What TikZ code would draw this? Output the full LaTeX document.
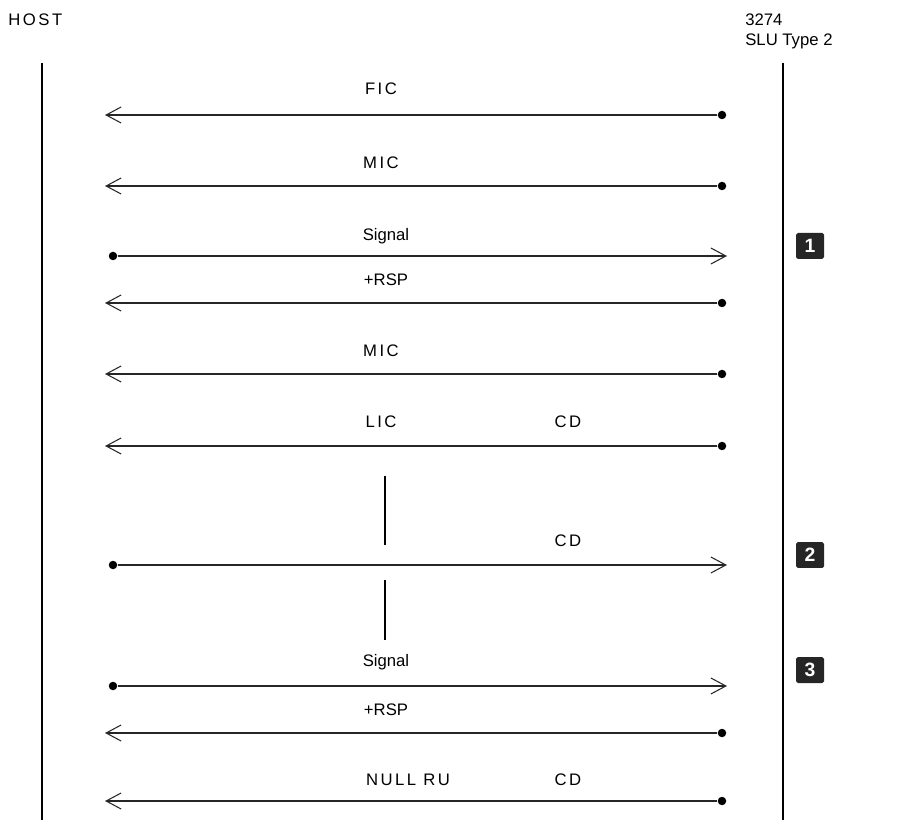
\documentclass[tikz,border=0pt]{standalone}
\usepackage{fontspec}
\setsansfont{Liberation Sans}
\newfontfamily\spacedsf[LetterSpace=15]{Liberation Sans}
\usetikzlibrary{arrows.meta, positioning}

\begin{document}
\begin{tikzpicture}[x=0.02cm, y=-0.02cm,
    lbl/.style={font=\sffamily\fontsize{9.5}{11}\selectfont, inner sep=0pt},
    wide/.style={font=\spacedsf\fontsize{9.5}{11}\selectfont, inner sep=0pt},
    dot/.style={circle, fill, inner sep=0pt, minimum size=0.17cm},
    msg/.style={line width=0.6pt, draw=black!85, -{Straight Barb[length=0.3cm, width=0.32cm, line width=0.6pt]}},
    life/.style={line width=0.8pt},
    numbox/.style={fill=black!85, text=white, font=\sffamily\bfseries\fontsize{11}{12}\selectfont,
                   minimum width=0.56cm, minimum height=0.52cm, rounded corners=1pt, inner sep=0pt}]
    \useasboundingbox (0,0) rectangle (909,820);

    % HEADINGS
    \node[wide, anchor=west] (host) at (8,20) {HOST};
    \node[lbl, anchor=west] (term) at (745,20) {3274};
    \node[lbl, anchor=north west] (slu) at (term.south west) [yshift=-0.15cm] {SLU Type 2};

    % LIFELINES
    \coordinate (hostTop) at (42,63);
    \coordinate (hostBot) at (42,820);
    \coordinate (sluTop) at (783,63);
    \coordinate (sluBot) at (783,820);
    \draw[life] (hostTop) -- (hostBot);
    \draw[life] (sluTop) -- (sluBot);

    % FIC
    \node[dot] (d1) at (722,115) {};
    \coordinate (t1) at (105,115);
    \draw[msg] (d1) -- (t1);
    \node[wide] (fic) at (381,89) {FIC};

    % MIC
    \node[dot] (d2) at (722,186) {};
    \coordinate (t2) at (105,186);
    \draw[msg] (d2) -- (t2);
    \node[wide] (mic1) at (381,163) {MIC};

    % Signal
    \node[dot] (d3) at (113,256) {};
    \coordinate (t3) at (727,256);
    \draw[msg] (d3) -- (t3);
    \node[lbl] (sig1) at (386,236) {Signal};
    \node[numbox] (n1) at (810,246) {1};

    % +RSP
    \node[dot] (d4) at (722,303) {};
    \coordinate (t4) at (105,303);
    \draw[msg] (d4) -- (t4);
    \node[lbl] (rsp1) at (386,280) {+RSP};

    % MIC
    \node[dot] (d5) at (722,374) {};
    \coordinate (t5) at (105,374);
    \draw[msg] (d5) -- (t5);
    \node[wide] (mic2) at (381,351) {MIC};

    % LIC, CD
    \node[dot] (d6) at (722,446) {};
    \coordinate (t6) at (105,446);
    \draw[msg] (d6) -- (t6);
    \node[wide] (lic) at (381,422) {LIC};
    \node[wide] (cd1) at (568,422) {CD};

    % CHAIN CONTINUES
    \coordinate (g1) at (385,476);
    \coordinate (g2) at (385,545);
    \coordinate (g3) at (385,580);
    \coordinate (g4) at (385,640);
    \draw[line width=0.6pt] (g1) -- (g2);
    \draw[line width=0.6pt] (g3) -- (g4);

    % CD
    \node[dot] (d7) at (113,565) {};
    \coordinate (t7) at (727,565);
    \draw[msg] (d7) -- (t7);
    \node[wide] (cd2) at (568,541) {CD};
    \node[numbox] (n2) at (810,555) {2};

    % Signal
    \node[dot] (d8) at (113,686) {};
    \coordinate (t8) at (727,686);
    \draw[msg] (d8) -- (t8);
    \node[lbl] (sig2) at (386,662) {Signal};
    \node[numbox] (n3) at (810,670) {3};

    % +RSP
    \node[dot] (d9) at (722,733) {};
    \coordinate (t9) at (105,733);
    \draw[msg] (d9) -- (t9);
    \node[lbl] (rsp2) at (386,710) {+RSP};

    % NULL RU, CD
    \node[dot] (d10) at (722,801) {};
    \coordinate (t10) at (105,801);
    \draw[msg] (d10) -- (t10);
    \node[wide] (null) at (408,780) {NULL RU};
    \node[wide] (cd3) at (568,780) {CD};
\end{tikzpicture}
\end{document}
